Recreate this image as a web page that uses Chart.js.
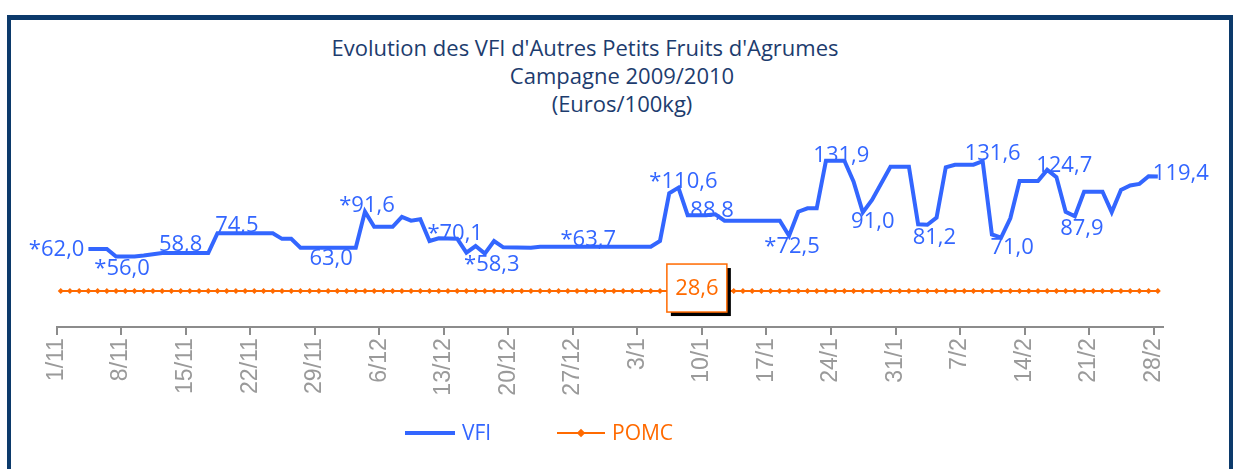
<!DOCTYPE html>
<html>
<head>
<meta charset="utf-8">
<script src="https://cdn.jsdelivr.net/npm/chart.js@4.4.1/dist/chart.umd.min.js"></script>
<style>
    body { margin: 0; background: #fff; }
    #wrap { position: relative; width: 1241px; height: 469px; overflow: hidden; font-family: 'Open Sans', sans-serif; }
    #frame { position: absolute; left: 7px; top: 15px; width: 1226px; height: 480px; box-sizing: border-box;
        border: 4px solid #0c3a6b; border-top-width: 5px; }
    .title { position: absolute; color: #1d3c6e; font-size: 22px; transform: translateX(-50%); white-space: nowrap; line-height: 1; }
    #chart { position: absolute; left: 0; top: 0; }
    .leg-line { position: absolute; }
    .leg-text { position: absolute; font-size: 21px; line-height: 1; top: 422px; }
    .diamond { position: absolute; width: 6px; height: 6px; background: #ff6a00; transform: rotate(45deg); }
</style>
</head>
<body>
<div id="wrap">
    <div id="frame"></div>
    <div class="title" style="left:585px;top:36px">Evolution des VFI d'Autres Petits Fruits d'Agrumes</div>
    <div class="title" style="left:622px;top:64px">Campagne 2009/2010</div>
    <div class="title" style="left:622px;top:92px">(Euros/100kg)</div>
    <canvas id="chart" width="1241" height="469"></canvas>
    <div class="leg-line" style="left:405px;top:431px;width:50px;height:4px;background:#3366ff"></div>
    <div class="leg-text" style="left:462px;color:#3366ff">VFI</div>
    <div class="leg-line" style="left:557px;top:432px;width:48px;height:2px;background:#ff6a00"></div>
    <div class="diamond" style="left:578px;top:430px"></div>
    <div class="leg-text" style="left:612px;color:#ff6a00">POMC</div>
</div>
<script>
const tickLabels = ['1/11', '8/11', '15/11', '22/11', '29/11', '6/12', '13/12', '20/12', '27/12',
    '3/1', '10/1', '17/1', '24/1', '31/1', '7/2', '14/2', '21/2', '28/2'];

// day number counted from 1/11
const vfiDays = [3, 5, 6, 8, 9, 11, 13, 16, 17, 19, 23, 24, 25, 26, 29, 32, 33, 34, 36, 37, 38, 39, 40, 41, 43,
    44, 45, 46, 47, 48, 51, 52, 57, 64, 65, 66, 67, 68, 70, 71, 72, 78, 79, 80, 81, 82, 83, 85, 86, 87, 88,
    90, 92, 93, 94, 95, 96, 97, 99, 100, 101, 102, 103, 104, 106, 107, 108, 109, 110, 111, 113, 114, 115,
    116, 117, 118, 119];
const vfiValues = [62.0, 62.0, 56.0, 56.0, 56.8, 58.8, 58.8, 58.8, 74.5, 74.5, 74.5, 70.0, 70.0, 63.0, 63.0, 63.0,
    91.6, 79.6, 79.6, 87.5, 84.4, 85.5, 68.3, 70.4, 70.1,
    59.0, 64.3, 58.3, 68.3, 63.3, 63.0, 63.7, 63.7, 63.7, 68.3, 106.1, 110.6, 88.8, 88.8, 89.5, 84.4, 84.4,
    72.5, 91.5, 94.2, 94.2, 131.9, 131.9, 115.3, 91.0, 100.8,
    127.2, 127.2, 81.5, 81.2, 86.8, 126.8, 128.8, 128.8, 131.6, 73.5, 71.0, 86.3, 115.8, 115.8, 124.7,
    119.0, 91.5, 87.9, 107.4, 107.4, 91.2, 108.7, 112.3, 113.6, 119.6, 119.4];

const pomcValues = [
    28.6, 28.6, 28.6, 28.6, 28.6, 28.6, 28.6, 28.6, 28.6, 28.6, 28.6, 28.6, 28.6, 28.6, 28.6, 28.6, 28.6, 28.6, 28.6, 28.6,
    28.6, 28.6, 28.6, 28.6, 28.6, 28.6, 28.6, 28.6, 28.6, 28.6, 28.6, 28.6, 28.6, 28.6, 28.6, 28.6, 28.6, 28.6, 28.6, 28.6,
    28.6, 28.6, 28.6, 28.6, 28.6, 28.6, 28.6, 28.6, 28.6, 28.6, 28.6, 28.6, 28.6, 28.6, 28.6, 28.6, 28.6, 28.6, 28.6, 28.6,
    28.6, 28.6, 28.6, 28.6, 28.6, 28.6, 28.6, 28.6, 28.6, 28.6, 28.6, 28.6, 28.6, 28.6, 28.6, 28.6, 28.6, 28.6, 28.6, 28.6,
    28.6, 28.6, 28.6, 28.6, 28.6, 28.6, 28.6, 28.6, 28.6, 28.6, 28.6, 28.6, 28.6, 28.6, 28.6, 28.6, 28.6, 28.6, 28.6, 28.6,
    28.6, 28.6, 28.6, 28.6, 28.6, 28.6, 28.6, 28.6, 28.6, 28.6, 28.6, 28.6, 28.6, 28.6, 28.6, 28.6, 28.6, 28.6, 28.6, 28.6
];

// which VFI points carry a label, and how the text sits around the point
const vfiLabels = [
    { day: 3, text: '*62,0', dx: -4, dy: 1, align: 'right' },
    { day: 6, text: '*56,0', dx: 6, dy: 12 },
    { day: 13, text: '58,8', dx: 0, dy: -8 },
    { day: 19, text: '74,5', dx: 1, dy: -7 },
    { day: 29, text: '63,0', dx: 3, dy: 11 },
    { day: 33, text: '*91,6', dx: 2, dy: -6 },
    { day: 43, text: '*70,1', dx: -2, dy: -5 },
    { day: 46, text: '*58,3', dx: 7, dy: 11 },
    { day: 57, text: '*63,7', dx: 2, dy: -7 },
    { day: 67, text: '*110,6', dx: 5, dy: -6 },
    { day: 70, text: '88,8', dx: 6, dy: -4 },
    { day: 79, text: '*72,5', dx: 3, dy: 11 },
    { day: 85, text: '131,9', dx: -3, dy: -5 },
    { day: 87, text: '91,0', dx: 10, dy: 9 },
    { day: 94, text: '81,2', dx: 7, dy: 13 },
    { day: 100, text: '131,6', dx: 10, dy: -7 },
    { day: 102, text: '71,0', dx: 11, dy: 10 },
    { day: 107, text: '124,7', dx: 17, dy: -4 },
    { day: 110, text: '87,9', dx: 7, dy: 12 },
    { day: 119, text: '119,4', dx: -5, dy: -3, align: 'left' }
];
const pomcLabelDay = 69;

const labelPlugin = {
    id: 'labels',
    afterDatasetsDraw(chart) {
        const ctx = chart.ctx;
        const xs = chart.scales.x;
        const ys = chart.scales.y;
        ctx.save();
        ctx.font = '22px "Open Sans"';
        ctx.fillStyle = '#3366ff';
        ctx.textBaseline = 'middle';
        vfiLabels.forEach(l => {
            const i = vfiDays.indexOf(l.day);
            const px = xs.getPixelForValue(l.day);
            const py = ys.getPixelForValue(vfiValues[i]);
            ctx.textAlign = l.align || 'center';
            ctx.fillText(l.text, px + l.dx, py + l.dy);
        });

        // boxed POMC value
        const bx = xs.getPixelForValue(pomcLabelDay);
        const by = ys.getPixelForValue(pomcValues[pomcLabelDay]);
        const w = 60, h = 48;
        const left = bx - w / 2, top = by - 27;
        ctx.fillStyle = '#000';
        ctx.fillRect(left + 4, top + 4, w, h);
        ctx.fillStyle = '#fff';
        ctx.fillRect(left, top, w, h);
        ctx.strokeStyle = '#ff6a00';
        ctx.lineWidth = 1.5;
        ctx.strokeRect(left, top, w, h);
        ctx.fillStyle = '#ff6a00';
        ctx.textAlign = 'center';
        ctx.font = '22px "Open Sans"';
        ctx.fillText(String(pomcValues[pomcLabelDay]).replace('.', ','), bx, top + h / 2 + 1);
        ctx.restore();
    }
};

new Chart(document.getElementById('chart'), {
    type: 'line',
    data: {
        datasets: [{
            label: 'VFI',
            data: vfiDays.map((d, i) => ({ x: d, y: vfiValues[i] })),
            borderColor: '#3366ff',
            borderWidth: 4,
            pointRadius: 0,
            tension: 0,
            order: 1
        }, {
            label: 'POMC',
            data: pomcValues.map((v, i) => ({ x: i, y: v })),
            borderColor: '#ff6a00',
            backgroundColor: '#ff6a00',
            borderWidth: 2,
            pointStyle: 'rectRot',
            pointRadius: 3,
            pointBorderWidth: 0,
            order: 2
        }]
    },
    options: {
        responsive: false,
        animation: false,
        layout: {
            padding: { left: 56.6, right: 78.1, top: 150.6, bottom: 71.9 }
        },
        scales: {
            x: {
                type: 'linear',
                min: -0.45,
                max: 119.55,
                afterBuildTicks: (axis) => {
                    axis.ticks = tickLabels.map((t, i) => ({ value: i * 7 - 0.45 }));
                },
                afterFit: (axis) => { axis.height = 70; },
                grid: {
                    drawOnChartArea: false,
                    color: '#8c8c8c',
                    lineWidth: 2,
                    tickLength: 8
                },
                border: { color: '#8c8c8c', width: 2 },
                ticks: {
                    autoSkip: false,
                    maxRotation: 90,
                    minRotation: 90,
                    padding: 3,
                    color: '#9a9a9a',
                    font: { family: '"Liberation Sans", Arial', size: 23 },
                    callback: (v, i) => tickLabels[i]
                }
            },
            y: {
                display: false,
                min: 0,
                max: 140
            }
        },
        plugins: {
            legend: { display: false },
            tooltip: { enabled: false }
        }
    },
    plugins: [labelPlugin]
});
</script>
</body>
</html>
